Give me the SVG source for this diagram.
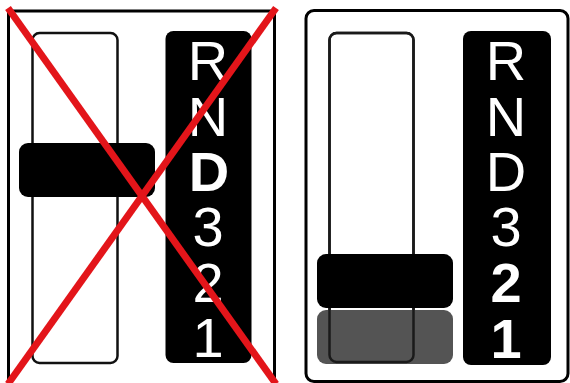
<svg xmlns="http://www.w3.org/2000/svg" width="570" height="383" viewBox="0 0 570 383">
  <style>
    .frame { fill: #ffffff; stroke: #000000; stroke-width: 3; }
    .track { fill: #ffffff; stroke: #111111; stroke-width: 2.5; }
    .trackline { fill: none; stroke: #1a1a1a; stroke-width: 2.5; }
    .panel { fill: #000000; }
    .handle { fill: #000000; }
    .ghost { fill: #545454; }
    .gear { font-family: "Liberation Sans", Arial, sans-serif; font-size: 56px; fill: #ffffff; text-anchor: middle; }
    .sel { font-weight: bold; }
    .cross { stroke: #e3151a; stroke-width: 7; stroke-linecap: butt; }
  </style>
  <rect width="570" height="383" fill="#ffffff"/>

  <g id="wrong">
    <rect class="frame" x="8.5" y="11" width="266" height="380"/>
    <g id="wrong-track">
      <rect class="track" x="32.5" y="33" width="85" height="330" rx="7"/>
    </g>
    <g id="wrong-labels">
      <rect class="panel" x="165.5" y="31" width="86" height="332" rx="8"/>
      <text class="gear" x="208" y="80">R</text>
      <text class="gear" x="208" y="136">N</text>
      <text class="gear sel" x="209" y="191">D</text>
      <text class="gear" x="208" y="246">3</text>
      <text class="gear" x="208" y="302">2</text>
      <text class="gear" x="208" y="357">1</text>
    </g>
    <g id="wrong-handle">
      <rect class="handle" x="19" y="143" width="136" height="54" rx="9"/>
    </g>
    <g id="cross">
      <line class="cross" x1="8" y1="8" x2="276" y2="384"/>
      <line class="cross" x1="276" y1="8" x2="8" y2="384"/>
    </g>
  </g>

  <g id="right">
    <rect class="frame" x="306" y="10.5" width="262" height="371" rx="8" stroke-width="2.5"/>
    <g id="right-track">
      <rect class="track" x="329.5" y="33" width="84" height="329" rx="7"/>
    </g>
    <g id="right-ghost">
      <rect class="ghost" x="317" y="310" width="136" height="54" rx="9"/>
      <rect class="trackline" x="329.5" y="33" width="84" height="329" rx="7"/>
    </g>
    <g id="right-handle">
      <rect class="handle" x="317" y="254" width="136" height="54" rx="9"/>
    </g>
    <g id="right-labels">
      <rect class="panel" x="463" y="31" width="88" height="334" rx="8"/>
      <text class="gear" x="506" y="80">R</text>
      <text class="gear" x="506" y="136">N</text>
      <text class="gear" x="506" y="191">D</text>
      <text class="gear" x="506" y="246">3</text>
      <text class="gear sel" x="506" y="302">2</text>
      <text class="gear sel" x="506" y="358">1</text>
    </g>
  </g>
</svg>
